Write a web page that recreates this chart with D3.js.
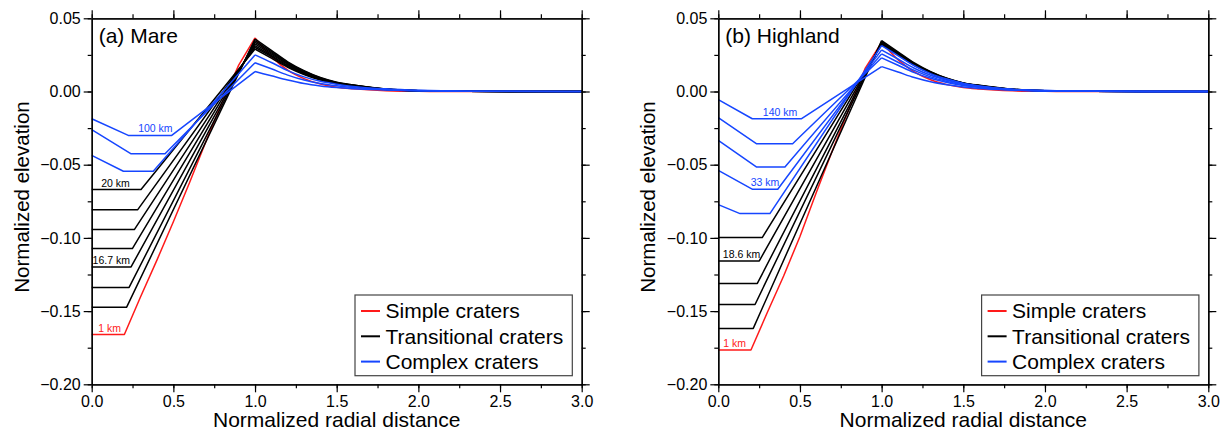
<!DOCTYPE html>
<html>
<head>
<meta charset="utf-8">
<script src="https://cdn.jsdelivr.net/npm/d3@7"></script>
<style>
  body { margin: 0; background: #fff; }
  text { font-family: "Liberation Sans", Arial, Helvetica, sans-serif; }
</style>
</head>
<body>
<div id="chart"></div>
<script>
// ---- data ----
var xTicks = [0, 0.5, 1, 1.5, 2, 2.5, 3];
var yTicks = [-0.2, -0.15, -0.1, -0.05, 0, 0.05];
var legendItems = ["Simple craters", "Transitional craters", "Complex craters"];
var outerX = [1.0, 1.1, 1.2, 1.3, 1.4, 1.5, 1.6, 1.8, 2.0, 2.3, 3.0];

// (a) Mare
var mareSimple = [[0,-0.166],[0.2,-0.166],[0.3,-0.140],[0.4,-0.115],[0.5,-0.089],[0.6,-0.062],[0.7,-0.034],[0.8,-0.007],[0.9,0.018],[1.0,0.0366]];
var mareSimpleOuter = [0.0366,0.0238,0.0146,0.0088,0.0051,0.0029,0.0018,0.0005,0.0001,0,0];
var mareTransFloor = [-0.0670,-0.0807,-0.0943,-0.1073,-0.1198,-0.1338,-0.1473];
var mareTransEdge = [0.302,0.282,0.261,0.249,0.241,0.229,0.214];
var mareTransOuter = [
  [0.0290,0.0228,0.0165,0.0116,0.0078,0.0052,0.0037,0.0014,0.0005,0.0001,0],
  [0.0302,0.0238,0.0172,0.0121,0.0082,0.0054,0.0038,0.0015,0.0005,0.0001,0],
  [0.0313,0.0246,0.0178,0.0125,0.0084,0.0056,0.0040,0.0015,0.0005,0.0001,0],
  [0.0325,0.0256,0.0185,0.0130,0.0088,0.0058,0.0041,0.0016,0.0005,0.0001,0],
  [0.0336,0.0264,0.0191,0.0134,0.0090,0.0060,0.0042,0.0016,0.0005,0.0001,0],
  [0.0347,0.0273,0.0197,0.0138,0.0093,0.0062,0.0044,0.0017,0.0005,0.0001,0],
  [0.0358,0.0281,0.0203,0.0143,0.0096,0.0064,0.0045,0.0017,0.0005,0.0001,0]
];
var mareCompStart = [-0.0186,-0.0261,-0.0436];
var mareCompFloor = [-0.0300,-0.0425,-0.0545];
var mareCompIn = [0.224,0.239,0.194];
var mareCompEdge = [0.490,0.449,0.377];
var mareCompOuter = [
  [0.0136,0.0107,0.0078,0.0054,0.0038,0.0027,0.0019,0.0010,0.0004,0.0001,0],
  [0.0196,0.0155,0.0112,0.0078,0.0055,0.0039,0.0027,0.0014,0.0006,0.0002,0],
  [0.0250,0.0198,0.0143,0.0100,0.0070,0.0050,0.0035,0.0018,0.0008,0.0002,0]
];
var mareLabels = [
  {type:"complex", i:0, x:0.39, text:"100 km"},
  {type:"trans", i:0, x:0.146, text:"20 km"},
  {type:"trans", i:4, x:0.12, text:"16.7 km"},
  {type:"simple", i:0, x:0.11, text:"1 km"}
];

// (b) Highland
var highSimple = [[0,-0.1766],[0.2,-0.1766],[0.3,-0.151],[0.4,-0.126],[0.5,-0.099],[0.6,-0.069],[0.7,-0.040],[0.8,-0.012],[0.9,0.016],[1.0,0.0335]];
var highSimpleOuter = [0.0335,0.0218,0.0134,0.0080,0.0047,0.0027,0.0017,0.0005,0.0001,0,0];
var highTransFloor = [-0.0998,-0.1157,-0.1311,-0.1455,-0.1618];
var highTransEdge = [0.269,0.251,0.239,0.225,0.214];
var highTransOuter = [
  [0.0320,0.0250,0.0179,0.0125,0.0083,0.0054,0.0038,0.0014,0.0005,0.0001,0],
  [0.0327,0.0255,0.0183,0.0128,0.0085,0.0056,0.0039,0.0015,0.0005,0.0001,0],
  [0.0334,0.0261,0.0187,0.0130,0.0087,0.0057,0.0040,0.0015,0.0005,0.0001,0],
  [0.0341,0.0266,0.0191,0.0133,0.0089,0.0058,0.0041,0.0015,0.0005,0.0001,0],
  [0.0348,0.0271,0.0195,0.0136,0.0090,0.0059,0.0042,0.0016,0.0005,0.0001,0]
];
var highCompStart = [-0.0055,-0.0179,-0.0334,-0.0539,-0.0773];
var highCompFloor = [-0.0186,-0.0357,-0.0516,-0.0668,-0.0834];
var highCompIn = [0.208,0.235,0.235,0.210,0.133];
var highCompEdge = [0.510,0.455,0.408,0.364,0.316];
var highCompOuter = [
  [0.0170,0.0133,0.0095,0.0066,0.0046,0.0031,0.0020,0.0009,0.0003,0.0001,0],
  [0.0230,0.0179,0.0129,0.0090,0.0062,0.0041,0.0028,0.0012,0.0005,0.0001,0],
  [0.0257,0.0200,0.0144,0.0100,0.0069,0.0046,0.0031,0.0013,0.0005,0.0001,0],
  [0.0284,0.0222,0.0159,0.0111,0.0077,0.0051,0.0034,0.0014,0.0006,0.0001,0],
  [0.0314,0.0245,0.0176,0.0122,0.0085,0.0057,0.0038,0.0016,0.0006,0.0002,0]
];
var highLabels = [
  {type:"complex", i:0, x:0.378, text:"140 km"},
  {type:"complex", i:3, x:0.286, text:"33 km"},
  {type:"trans", i:1, x:0.142, text:"18.6 km"},
  {type:"simple", i:0, x:0.10, text:"1 km"}
];

var RED = "#ff1a1a", BLACK = "#000", BLUE = "#1646ff";

var svg = d3.select("#chart").append("svg")
  .attr("width", 1228).attr("height", 439);

function drawPanel(left, title, d) {
  var x = d3.scaleLinear().domain([0, 3]).range([left, left + 490]);
  var y = d3.scaleLinear().domain([-0.2, 0.05]).range([384.3, 18.3]);
  var g = svg.append("g");

  var lineIn = d3.line().x(function(p){return x(p[0]);}).y(function(p){return y(p[1]);});
  var lineOut = d3.line().curve(d3.curveMonotoneX)
    .x(function(p){return x(p[0]);}).y(function(p){return y(p[1]);});
  function outer(vals){ return outerX.map(function(v,k){return [v, vals[k]];}); }

  function curve(inner, outVals, color){
    g.append("path").attr("d", lineIn(inner)).attr("fill","none")
      .attr("stroke", color).attr("stroke-width", 1.5).attr("stroke-linejoin","round");
    g.append("path").attr("d", lineOut(outer(outVals))).attr("fill","none")
      .attr("stroke", color).attr("stroke-width", 1.5);
  }

  // simple crater (red)
  curve(d.simple, d.simpleOuter, RED);
  // transitional craters (black)
  d.transFloor.forEach(function(f, i){
    curve([[0,f],[d.transEdge[i],f],[1,d.transOuter[i][0]]], d.transOuter[i], BLACK);
  });
  // complex craters (blue)
  d.compFloor.forEach(function(f, i){
    curve([[0,d.compStart[i]],[d.compIn[i],f],[d.compEdge[i],f],[1,d.compOuter[i][0]]], d.compOuter[i], BLUE);
  });

  // size labels
  d.labels.forEach(function(l){
    var yy, col;
    if (l.type == "simple") { yy = d.simple[0][1]; col = RED; }
    else if (l.type == "trans") { yy = d.transFloor[l.i]; col = BLACK; }
    else { yy = d.compFloor[l.i]; col = BLUE; }
    g.append("text").attr("x", x(l.x)).attr("y", y(yy) - 3)
      .attr("text-anchor","middle").attr("font-size", 10.5).attr("fill", col)
      .text(l.text);
  });

  // axes, ticks pointing out on all four sides
  var fmtX = d3.format(".1f"), fmtY = d3.format(".2f");
  var minorX = d3.range(0, 3.001, 0.25), minorY = d3.range(-0.2, 0.0501, 0.025);
  function axis(gen, tr, scale, vals, size, fmt){
    var a = g.append("g").attr("transform", tr)
      .call(gen(scale).tickValues(vals).tickSize(size).tickSizeOuter(0)
        .tickPadding(3).tickFormat(fmt || ""));
    a.select(".domain").attr("stroke-width", 1.3);
    a.selectAll(".tick line").attr("stroke-width", 1.2);
    a.selectAll("text").attr("font-size", 16).attr("fill", "#000")
      .style("font-family", "'Liberation Sans', Arial, sans-serif");
    return a;
  }
  axis(d3.axisBottom, "translate(0,384.3)", x, xTicks, 8, fmtX);
  axis(d3.axisBottom, "translate(0,384.3)", x, minorX, 4);
  axis(d3.axisTop, "translate(0,18.3)", x, xTicks, 8);
  axis(d3.axisTop, "translate(0,18.3)", x, minorX, 4);
  axis(d3.axisLeft, "translate(" + left + ",0)", y, yTicks, 8, fmtY);
  axis(d3.axisLeft, "translate(" + left + ",0)", y, minorY, 4);
  axis(d3.axisRight, "translate(" + (left + 490) + ",0)", y, yTicks, 8);
  axis(d3.axisRight, "translate(" + (left + 490) + ",0)", y, minorY, 4);

  // titles
  g.append("text").attr("x", left + 245).attr("y", 427).attr("text-anchor","middle")
    .attr("font-size", 21).text("Normalized radial distance");
  g.append("text").attr("transform", "translate(" + (left - 63) + ",197) rotate(-90)")
    .attr("text-anchor","middle").attr("font-size", 20.5).text("Normalized elevation");
  g.append("text").attr("x", left + 7).attr("y", 43).attr("font-size", 21).text(title);

  // legend
  var lx = left + 490 - 226.7, ly = 295;
  g.append("rect").attr("x", lx).attr("y", ly).attr("width", 217.3).attr("height", 80.7)
    .attr("fill", "#fff").attr("stroke", "#444").attr("stroke-width", 1.2);
  var cols = [RED, BLACK, BLUE];
  legendItems.forEach(function(name, i){
    var cy = ly + 16 + i * 25.3;
    g.append("line").attr("x1", lx + 6).attr("x2", lx + 25).attr("y1", cy).attr("y2", cy)
      .attr("stroke", cols[i]).attr("stroke-width", 2);
    g.append("text").attr("x", lx + 30.5).attr("y", cy).attr("dy", "0.35em")
      .attr("font-size", 21).text(name);
  });
}

drawPanel(91.7, "(a) Mare", {
  simple: mareSimple, simpleOuter: mareSimpleOuter,
  transFloor: mareTransFloor, transEdge: mareTransEdge, transOuter: mareTransOuter,
  compStart: mareCompStart, compFloor: mareCompFloor, compIn: mareCompIn,
  compEdge: mareCompEdge, compOuter: mareCompOuter, labels: mareLabels
});
drawPanel(718.3, "(b) Highland", {
  simple: highSimple, simpleOuter: highSimpleOuter,
  transFloor: highTransFloor, transEdge: highTransEdge, transOuter: highTransOuter,
  compStart: highCompStart, compFloor: highCompFloor, compIn: highCompIn,
  compEdge: highCompEdge, compOuter: highCompOuter, labels: highLabels
});
</script>
</body>
</html>
